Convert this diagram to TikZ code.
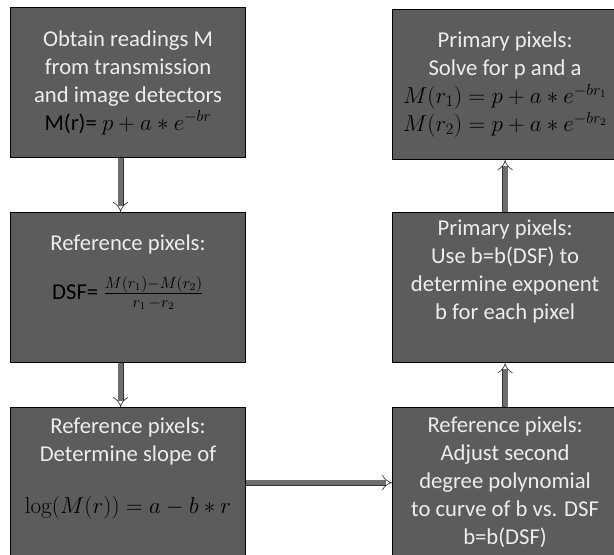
\documentclass[tikz,border=0pt]{standalone}
\usepackage{amsmath}
\usepackage[no-math]{fontspec}
\setmainfont{Carlito}
\usepackage{tikz}
\usetikzlibrary{arrows.meta,positioning}
\definecolor{boxgray}{HTML}{5C5C5C}
\definecolor{boxtext}{HTML}{EDEDED}
\definecolor{flowgray}{HTML}{6E6E6E}

\begin{document}
\begin{tikzpicture}[
  font=\fontsize{17}{21}\selectfont,
  box/.style={draw=black,line width=0.8pt,fill=boxgray,text=boxtext,align=center,inner sep=2pt,minimum width=176.25pt,minimum height=112.5pt},
  rbox/.style={box,minimum width=168.75pt},
  flow/.style={draw=black!80,line width=0.5pt,double=flowgray,double distance=3.6pt,-{Implies}}
]
\useasboundingbox (0,0) rectangle (460.5pt,-416.25pt);
% left column, going down
\node[box,anchor=north west] (obtain) at (7.5pt,-5.25pt)
  {Obtain readings M\\from transmission\\and image detectors\\{\color{black}M(r)= $p+a*e^{-br}$}};
\node[box,below=40.5pt of obtain] (dsf)
  {Reference pixels:\\[16pt]{\color{black}DSF= $\frac{M(r_1)-M(r_2)}{r_1\,-r_2}$}\\[10pt]\mbox{}};
\node[box,below=33pt of dsf] (slope)
  {Reference pixels:\\Determine slope of\\[18pt]{\color{black}$\log(M(r))=a-b*r$}\\[4pt]\mbox{}};
% right column, going up
\node[rbox,right=109.5pt of slope] (adjust)
  {Reference pixels:\\Adjust second\\degree polynomial\\to curve of b vs. DSF\\b=b(DSF)};
\node[rbox,above=33pt of adjust] (use)
  {Primary pixels:\\Use b=b(DSF) to\\determine exponent\\b for each pixel\\[6pt]\mbox{}};
\node[rbox,above=39pt of use] (solve)
  {Primary pixels:\\Solve for p and a\\{\color{black}$M(r_1)=p+a*e^{-br_1}$}\\{\color{black}$M(r_2)=p+a*e^{-br_2}$}};
% connectors
\draw[flow] ([xshift=-5.6pt]obtain.south) -- ([xshift=-5.6pt]dsf.north);
\draw[flow] ([xshift=-5.6pt]dsf.south) -- ([xshift=-5.6pt]slope.north);
\draw[flow] (slope.east) -- (adjust.west);
\draw[flow] (adjust.north) -- (use.south);
\draw[flow] (use.north) -- (solve.south);
\end{tikzpicture}
\end{document}
